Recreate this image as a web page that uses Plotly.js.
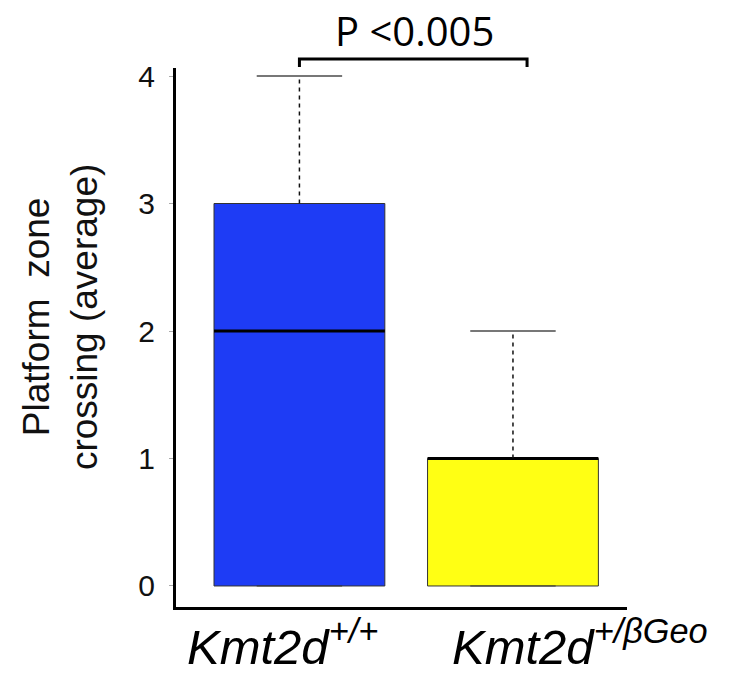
<!DOCTYPE html>
<html>
<head>
<meta charset="utf-8">
<script src="https://cdn.plot.ly/plotly-3.0.1.min.js"></script>
<style>html,body{margin:0;padding:0;background:#fff;}</style>
</head>
<body>
<div id="chart" style="width:729px;height:676px;"></div>
<script>
// Data
const groups = ["Kmt2d+/+", "Kmt2d+/βGeo"];
const groupLabels = ["<i>Kmt2d<sup>+/+</sup></i>", "<i>Kmt2d<sup>+/βGeo</sup></i>"];
const positions = [0, 1];
const q1Values = [0, 0];
const medianValues = [2, 1];
const q3Values = [3, 1];
const minValues = [0, 0];
const maxValues = [4, 2];
const boxColors = ["#1e3cf5", "#ffff14"];
const yTicks = [0, 1, 2, 3, 4];
const yTitle = "Platform  zone<br>crossing (average)";
const pLabel = "P <0.005";

const boxWidth = 0.8;
const capHalf = 0.2;
const traces = [];

positions.forEach((x, i) => {
  traces.push({
    type: 'box',
    name: groups[i],
    x: [x],
    q1: [q1Values[i]],
    median: [medianValues[i]],
    q3: [q3Values[i]],
    lowerfence: [q1Values[i]],
    upperfence: [q3Values[i]],
    width: boxWidth,
    fillcolor: boxColors[i],
    line: {color: '#333333', width: 1},
    hoverinfo: 'skip',
    showlegend: false
  });
  traces.push({
    type: 'scatter', mode: 'lines',
    x: [x - boxWidth / 2, x + boxWidth / 2],
    y: [medianValues[i], medianValues[i]],
    line: {color: '#000000', width: 3},
    hoverinfo: 'skip', showlegend: false
  });
  traces.push({
    type: 'scatter', mode: 'lines',
    x: [x, x],
    y: [q3Values[i], maxValues[i]],
    line: {color: '#111111', width: 1.5, dash: '4px,4px'},
    hoverinfo: 'skip', showlegend: false
  });
  traces.push({
    type: 'scatter', mode: 'lines',
    x: [x - capHalf, x + capHalf],
    y: [maxValues[i], maxValues[i]],
    line: {color: '#777777', width: 2},
    hoverinfo: 'skip', showlegend: false
  });
  if (minValues[i] < q1Values[i]) {
    traces.push({
      type: 'scatter', mode: 'lines',
      x: [x, x], y: [minValues[i], q1Values[i]],
      line: {color: '#111111', width: 1.5, dash: '4px,4px'},
      hoverinfo: 'skip', showlegend: false
    });
  }
});

const fontFam = '"Liberation Sans", Arial, sans-serif';

const layout = {
  width: 729, height: 676,
  margin: {l: 176, r: 102, t: 68, b: 69},
  paper_bgcolor: '#ffffff', plot_bgcolor: '#ffffff',
  boxmode: 'overlay',
  showlegend: false,
  xaxis: {
    range: [-0.578, 1.534],
    showline: true, linewidth: 3, linecolor: '#000000',
    showgrid: false, zeroline: false,
    showticklabels: false, ticks: ''
  },
  yaxis: {
    range: [-0.165, 4.063],
    tickvals: yTicks,
    ticktext: yTicks.map(String),
    showline: true, linewidth: 3, linecolor: '#000000',
    showgrid: false, zeroline: false,
    ticks: 'outside', ticklen: 4, tickwidth: 1, tickcolor: '#aaaaaa',
    ticklabelstandoff: 8,
    tickfont: {family: fontFam, size: 30, color: '#111111'}
  },
  annotations: [
    {
      text: pLabel, xref: 'x', yref: 'paper', x: 0.541, y: 1.0705,
      xanchor: 'center', yanchor: 'middle', showarrow: false,
      font: {family: '"Open Sans", sans-serif', size: 40, color: '#000000'}
    },
    {
      text: yTitle, xref: 'paper', yref: 'paper', x: -0.257, y: 0.538,
      xanchor: 'center', yanchor: 'middle', textangle: -90, showarrow: false,
      font: {family: fontFam, size: 37, color: '#111111'}
    }
  ].concat(positions.map((x, i) => ({
    text: groupLabels[i], xref: 'x', yref: 'paper', x: x, y: -0.127,
    xshift: i === 0 ? -17 : 67,
    xanchor: 'center', yanchor: 'bottom', showarrow: false, borderpad: 0,
    font: {family: fontFam, size: 49, color: '#000000'}
  }))),
  shapes: [
    {
      type: 'path', xref: 'x', yref: 'paper',
      path: 'M 0 1.0019 L 0 1.0167 L 1.066 1.0167 L 1.066 1.0019',
      line: {color: '#000000', width: 3}
    }
  ]
};

Plotly.newPlot('chart', traces, layout, {displayModeBar: false, staticPlot: true});
</script>
</body>
</html>
